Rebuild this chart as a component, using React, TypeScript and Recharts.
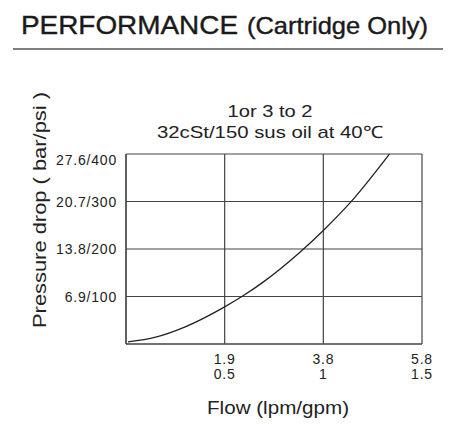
import { LineChart, Line, XAxis, YAxis, CartesianGrid } from 'recharts';

// Flow (gpm) vs pressure drop (bar)
const flowGpm = [0.01, 0.15, 0.3, 0.5, 0.593, 0.7, 0.88, 1.0, 1.135, 1.335];
const pressureBar = [0.3, 1.0, 2.5, 5.4, 7.0, 9.1, 13.3, 16.5, 20.5, 27.6];

const gpmTicks = [0.5, 1, 1.5];
const lpmLabels = ['1.9', '3.8', '5.8'];
const gpmLabels = ['0.5', '1', '1.5'];

const barTicks = [6.9, 13.8, 20.7, 27.6];
const pressureLabels = ['6.9/100', '13.8/200', '20.7/300', '27.6/400'];

const FONT = '"Liberation Sans", Arial, Helvetica, sans-serif';
const INK = '#222';
const GRID = '#444';

const data = flowGpm.map((f, i) => ({ flow: f, drop: pressureBar[i] }));

const FlowTick = (props: any) => {
  const { x, y, payload } = props;
  const i = gpmTicks.indexOf(payload.value);
  return (
    <text x={x} textAnchor="middle" fontFamily={FONT} fontSize={14} fill={INK} letterSpacing={0.8}>
      <tspan x={x} y={y + 20}>{lpmLabels[i]}</tspan>
      <tspan x={x} y={y + 35}>{gpmLabels[i]}</tspan>
    </text>
  );
};

const DropTick = (props: any) => {
  const { x, y, payload } = props;
  const i = barTicks.indexOf(payload.value);
  // top label sits a little lower in the original
  const dy = i === barTicks.length - 1 ? 11 : 5;
  return (
    <text x={x - 9} y={y + dy} textAnchor="end" fontFamily={FONT} fontSize={14} fill={INK} letterSpacing={0.8}>
      {pressureLabels[i]}
    </text>
  );
};

export default function App() {
  return (
    <div style={{ position: 'absolute', left: 0, top: 0, width: 460, height: 438, background: '#fff' }}>
      <LineChart
        width={460}
        height={438}
        data={data}
        margin={{ top: 154, right: 38, left: 46, bottom: 54 }}
      >
        <CartesianGrid stroke={GRID} strokeWidth={1.2} />
        <XAxis
          dataKey="flow"
          type="number"
          domain={[0, 1.5]}
          ticks={gpmTicks}
          height={40}
          tickSize={0}
          tickMargin={0}
          tickLine={false}
          axisLine={{ stroke: GRID, strokeWidth: 1.2 }}
          tick={<FlowTick />}
          interval={0}
        />
        <YAxis
          type="number"
          domain={[0, 27.6]}
          ticks={barTicks}
          width={80}
          tickSize={0}
          tickMargin={0}
          tickLine={false}
          axisLine={{ stroke: GRID, strokeWidth: 1.2 }}
          tick={<DropTick />}
          interval={0}
        />
        <Line
          dataKey="drop"
          type="monotone"
          stroke={INK}
          strokeWidth={1.3}
          dot={false}
          isAnimationActive={false}
        />
      </LineChart>

      <svg
        width={460}
        height={438}
        style={{ position: 'absolute', left: 0, top: 0, pointerEvents: 'none' }}
      >
        <g fill="#1a1a1a" stroke="#1a1a1a" strokeWidth={0.4} fontFamily={FONT}>
          <text x={21} y={34} fontSize={26} textLength={217} lengthAdjust="spacingAndGlyphs">
            PERFORMANCE
          </text>
          <text x={247} y={34} fontSize={24} textLength={181} lengthAdjust="spacingAndGlyphs">
            (Cartridge Only)
          </text>
        </g>
        <line x1={13} x2={443} y1={49} y2={49} stroke="#555" strokeWidth={1.5} />

        <text x={270} y={117} textAnchor="middle" fontFamily={FONT} fontSize={17} fill={INK} textLength={85} lengthAdjust="spacingAndGlyphs">
          1or 3 to 2
        </text>
        <text x={270} y={138} textAnchor="middle" fontFamily={FONT} fontSize={17} fill={INK} textLength={226} lengthAdjust="spacingAndGlyphs">
          32cSt/150 sus oil at 40℃
        </text>

        <text
          x={0}
          y={0}
          transform="translate(46 210) rotate(-90)"
          textAnchor="middle"
          fontFamily={FONT}
          fontSize={18}
          fill={INK}
          textLength={236}
          lengthAdjust="spacingAndGlyphs"
        >
          Pressure drop ( bar/psi )
        </text>

        <text x={278} y={414} textAnchor="middle" fontFamily={FONT} fontSize={18} fill={INK} textLength={142} lengthAdjust="spacingAndGlyphs">
          Flow (lpm/gpm)
        </text>
      </svg>
    </div>
  );
}
